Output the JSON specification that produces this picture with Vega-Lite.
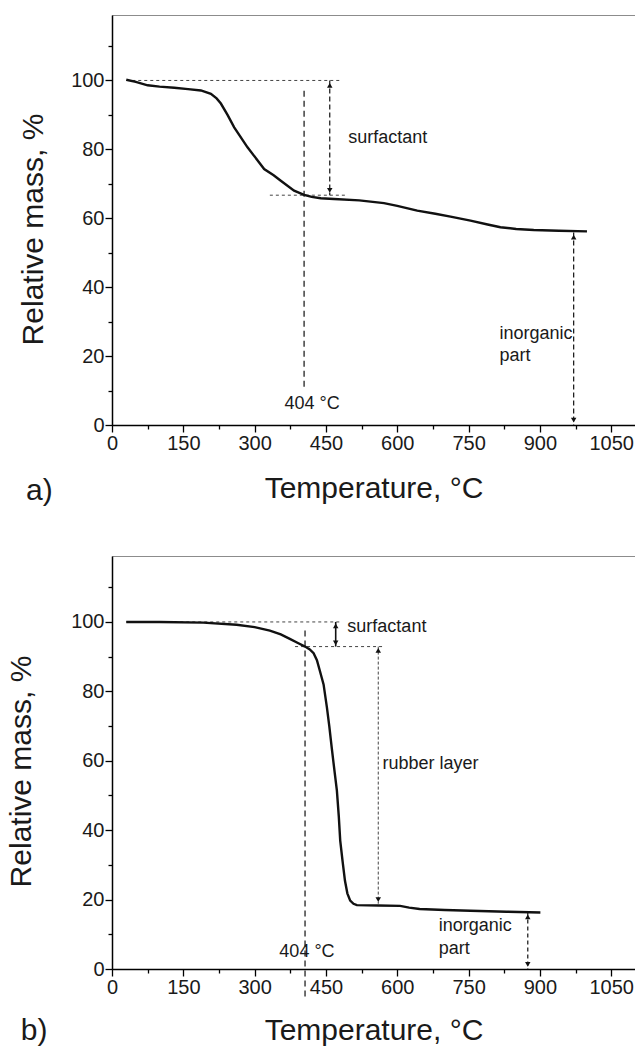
{
  "$schema": "https://vega.github.io/schema/vega-lite/v6.json",
  "padding": {"left": 6, "top": 14, "right": 0, "bottom": 4},
  "spacing": 131,
  "bounds": "flush",
  "datasets": {
    "curveA": [
      {"T":30,"m":100.2},{"T":50,"m":99.6},{"T":75,"m":98.6},{"T":100,"m":98.2},{"T":131,"m":97.9},{"T":160,"m":97.5},{"T":187,"m":97.1},{"T":208,"m":96.1},{"T":220,"m":94.8},{"T":229,"m":93.3},{"T":243,"m":90},{"T":257,"m":86.4},{"T":285,"m":80.6},{"T":320,"m":74.3},{"T":340,"m":72.5},{"T":355,"m":70.9},{"T":383,"m":68.0},{"T":404,"m":66.8},{"T":420,"m":66.2},{"T":439,"m":65.8},{"T":467,"m":65.6},{"T":520,"m":65.2},{"T":572,"m":64.4},{"T":600,"m":63.6},{"T":642,"m":62.2},{"T":680,"m":61.3},{"T":712,"m":60.5},{"T":754,"m":59.3},{"T":790,"m":58.2},{"T":817,"m":57.4},{"T":850,"m":56.9},{"T":887,"m":56.6},{"T":940,"m":56.4},{"T":999,"m":56.2}
    ],
    "guidesA": [
      {"kind":"level","T":30,"m":100,"T2":481,"m2":100},
      {"kind":"level","T":332,"m":66.7,"T2":492,"m2":66.7},
      {"kind":"onset","T":404,"m":97,"T2":404,"m2":10.8},
      {"kind":"arrow","T":458,"m":100,"T2":458,"m2":66.7},
      {"kind":"arrow","T":971,"m":55.9,"T2":971,"m2":0}
    ],
    "headsA": [
      {"T":458,"m":98.6,"dir":"up"},{"T":458,"m":68.1,"dir":"down"},
      {"T":971,"m":54.5,"dir":"up"},{"T":971,"m":1.4,"dir":"down"}
    ],
    "labelsA": [
      {"T":497,"m":83.4,"label":"surfactant"},
      {"T":363,"m":6,"label":"404 °C"},
      {"T":815,"m":26.4,"label":"inorganic"},
      {"T":815,"m":20,"label":"part"}
    ],
    "panelA": [{"T":-181,"m":-19.2,"label":"a)"}],
    "curveB": [
      {"T":30,"m":100},{"T":100,"m":100},{"T":192,"m":99.8},{"T":262,"m":99.2},{"T":300,"m":98.5},{"T":332,"m":97.5},{"T":355,"m":96.4},{"T":374,"m":95.1},{"T":390,"m":94},{"T":406,"m":92.9},{"T":416,"m":92.1},{"T":424,"m":91},{"T":431,"m":89},{"T":437,"m":86},{"T":441,"m":84},{"T":445,"m":82},{"T":452,"m":75.4},{"T":457,"m":70},{"T":462,"m":63.9},{"T":468,"m":57},{"T":473,"m":51.4},{"T":477,"m":44},{"T":480,"m":37},{"T":485,"m":31},{"T":490,"m":25.4},{"T":495,"m":21.8},{"T":501,"m":19.7},{"T":508,"m":18.8},{"T":515,"m":18.4},{"T":560,"m":18.3},{"T":606,"m":18.2},{"T":625,"m":17.7},{"T":647,"m":17.3},{"T":700,"m":17},{"T":754,"m":16.8},{"T":830,"m":16.5},{"T":901,"m":16.3}
    ],
    "guidesB": [
      {"kind":"level","T":30,"m":100,"T2":480,"m2":100},
      {"kind":"level","T":385,"m":92.9,"T2":571,"m2":92.9},
      {"kind":"onset","T":406,"m":97.5,"T2":406,"m2":-9},
      {"kind":"solid","T":470.5,"m":100,"T2":470.5,"m2":92.9},
      {"kind":"fine","T":560,"m":92.9,"T2":560,"m2":18.8},
      {"kind":"arrow","T":874.5,"m":16.3,"T2":874.5,"m2":0}
    ],
    "headsB": [
      {"T":470.5,"m":98.9,"dir":"up"},{"T":470.5,"m":94,"dir":"down"},
      {"T":560,"m":91.8,"dir":"up"},{"T":560,"m":20,"dir":"down"},
      {"T":874.5,"m":15,"dir":"up"},{"T":874.5,"m":1.3,"dir":"down"}
    ],
    "labelsB": [
      {"T":495,"m":98.5,"label":"surfactant"},
      {"T":569,"m":59.2,"label":"rubber layer"},
      {"T":687,"m":12.5,"label":"inorganic"},
      {"T":687,"m":5.8,"label":"part"},
      {"T":352,"m":4.8,"label":"404 °C"}
    ],
    "panelB": [{"T":-192,"m":-17.8,"label":"b)"}]
  },
  "vconcat": [
    {
      "width": 523,
      "height": 410,
      "encoding": {
        "x": {"field":"T","type":"quantitative","scale":{"domain":[0,1100],"nice":false,"zero":false},
          "axis":{"values":[0,75,150,225,300,375,450,525,600,675,750,825,900,975,1050],"format":"d","labelExpr":"datum.value % 150 === 0 ? datum.label : ''","tickSize":{"condition":{"test":"datum.value % 150 === 0","value":7},"value":4},"labelOverlap":false,"labelFlush":false,"title":"Temperature, °C","titlePadding":20}},
        "y": {"field":"m","type":"quantitative","scale":{"domain":[0,119],"nice":false,"zero":false},
          "axis":{"values":[0,10,20,30,40,50,60,70,80,90,100,110],"format":"d","labelExpr":"datum.value % 20 === 0 ? datum.label : ''","tickSize":{"condition":{"test":"datum.value % 20 === 0","value":7},"value":4},"labelOverlap":false,"labelFlush":false,"title":"Relative mass, %","titlePadding":22,"titleY":214}}
      },
      "layer": [
        {"data":{"name":"guidesA"},"transform":[{"filter":"datum.kind === 'level'"}],"mark":{"type":"rule","color":"#444","strokeWidth":1,"strokeDash":[3,3]},"encoding":{"x2":{"field":"T2"},"y2":{"field":"m2"}}},
        {"data":{"name":"guidesA"},"transform":[{"filter":"datum.kind === 'onset'"}],"mark":{"type":"rule","color":"#111","strokeWidth":1.2,"strokeDash":[6,4]},"encoding":{"x2":{"field":"T2"},"y2":{"field":"m2"}}},
        {"data":{"name":"guidesA"},"transform":[{"filter":"datum.kind === 'arrow'"}],"mark":{"type":"rule","color":"#111","strokeWidth":1.2,"strokeDash":[5,3]},"encoding":{"x2":{"field":"T2"},"y2":{"field":"m2"}}},
        {"data":{"name":"headsA"},"mark":{"type":"point","filled":true,"color":"#111","opacity":1,"size":30},"encoding":{"shape":{"field":"dir","type":"nominal","scale":{"domain":["up","down"],"range":["triangle-up","triangle-down"]},"legend":null}}},
        {"data":{"name":"curveA"},"mark":{"type":"line","color":"#111","strokeWidth":2.4}},
        {"data":{"name":"labelsA"},"mark":{"type":"text","align":"left","baseline":"middle","fontSize":18,"color":"#1a1a1a"},"encoding":{"text":{"field":"label"}}},
        {"data":{"name":"panelA"},"mark":{"type":"text","align":"left","baseline":"middle","fontSize":30,"color":"#1a1a1a"},"encoding":{"text":{"field":"label"}}}
      ]
    },
    {
      "width": 523,
      "height": 413,
      "encoding": {
        "x": {"field":"T","type":"quantitative","scale":{"domain":[0,1100],"nice":false,"zero":false},
          "axis":{"values":[0,75,150,225,300,375,450,525,600,675,750,825,900,975,1050],"format":"d","labelExpr":"datum.value % 150 === 0 ? datum.label : ''","tickSize":{"condition":{"test":"datum.value % 150 === 0","value":7},"value":4},"labelOverlap":false,"labelFlush":false,"title":"Temperature, °C","titlePadding":18}},
        "y": {"field":"m","type":"quantitative","scale":{"domain":[0,119],"nice":false,"zero":false},
          "axis":{"values":[0,10,20,30,40,50,60,70,80,90,100,110],"format":"d","labelExpr":"datum.value % 20 === 0 ? datum.label : ''","tickSize":{"condition":{"test":"datum.value % 20 === 0","value":7},"value":4},"labelOverlap":false,"labelFlush":false,"title":"Relative mass, %","titlePadding":34,"titleY":215}}
      },
      "layer": [
        {"data":{"name":"guidesB"},"transform":[{"filter":"datum.kind === 'level'"}],"mark":{"type":"rule","color":"#444","strokeWidth":1,"strokeDash":[3,3]},"encoding":{"x2":{"field":"T2"},"y2":{"field":"m2"}}},
        {"data":{"name":"guidesB"},"transform":[{"filter":"datum.kind === 'onset'"}],"mark":{"type":"rule","color":"#111","strokeWidth":1.2,"strokeDash":[6,4]},"encoding":{"x2":{"field":"T2"},"y2":{"field":"m2"}}},
        {"data":{"name":"guidesB"},"transform":[{"filter":"datum.kind === 'solid'"}],"mark":{"type":"rule","color":"#111","strokeWidth":1.6},"encoding":{"x2":{"field":"T2"},"y2":{"field":"m2"}}},
        {"data":{"name":"guidesB"},"transform":[{"filter":"datum.kind === 'fine'"}],"mark":{"type":"rule","color":"#444","strokeWidth":1,"strokeDash":[3,2]},"encoding":{"x2":{"field":"T2"},"y2":{"field":"m2"}}},
        {"data":{"name":"guidesB"},"transform":[{"filter":"datum.kind === 'arrow'"}],"mark":{"type":"rule","color":"#111","strokeWidth":1.2,"strokeDash":[4,3]},"encoding":{"x2":{"field":"T2"},"y2":{"field":"m2"}}},
        {"data":{"name":"headsB"},"mark":{"type":"point","filled":true,"color":"#111","opacity":1,"size":30},"encoding":{"shape":{"field":"dir","type":"nominal","scale":{"domain":["up","down"],"range":["triangle-up","triangle-down"]},"legend":null}}},
        {"data":{"name":"curveB"},"mark":{"type":"line","color":"#111","strokeWidth":2.4}},
        {"data":{"name":"labelsB"},"mark":{"type":"text","align":"left","baseline":"middle","fontSize":18,"color":"#1a1a1a"},"encoding":{"text":{"field":"label"}}},
        {"data":{"name":"panelB"},"mark":{"type":"text","align":"left","baseline":"middle","fontSize":30,"color":"#1a1a1a"},"encoding":{"text":{"field":"label"}}}
      ]
    }
  ],
  "config": {
    "view": {"stroke":"#8c8c8c","strokeWidth":1},
    "axis": {"domainColor":"#000","domainWidth":1.5,"tickColor":"#000","tickWidth":1.3,"labelFont":"Liberation Sans","labelFontSize":20,"labelColor":"#1a1a1a","titleFont":"Liberation Sans","titleFontSize":30,"titleFontWeight":"normal","titleColor":"#1a1a1a","grid":false,"labelPadding":1},
    "text": {"font":"Liberation Sans"}
  }
}
